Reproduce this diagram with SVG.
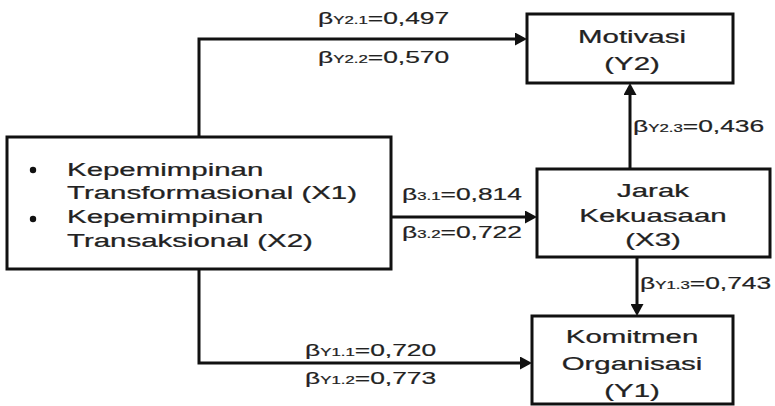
<svg xmlns="http://www.w3.org/2000/svg" width="775" height="406" viewBox="0 0 775 406">
<style>
.box{fill:#fff;stroke:#111;stroke-width:3}
.con{fill:none;stroke:#111;stroke-width:3}
.t{font-family:"Liberation Sans",Arial,sans-serif;font-size:19px;fill:#222;stroke:#222;stroke-width:0.25}
.c{text-anchor:middle}
.l{font-family:"Liberation Sans",Arial,sans-serif;font-size:16.5px;fill:#222;stroke:#222;stroke-width:0.2}
.s{font-size:10.5px}
</style>
<defs>
<marker id="ah" markerUnits="userSpaceOnUse" markerWidth="13" markerHeight="13" refX="8" refY="6.5" orient="auto">
<path d="M0,0 L12,6.5 L0,13 z" fill="#111"/>
</marker>
</defs>
<rect width="775" height="406" fill="#fff"/>
<g id="connectors">
<path class="con" d="M199,137 V39 H523" marker-end="url(#ah)"/>
<path class="con" d="M630,169 V87" marker-end="url(#ah)"/>
<path class="con" d="M391,217 H533" marker-end="url(#ah)"/>
<path class="con" d="M199,269 V363 H528" marker-end="url(#ah)"/>
<path class="con" d="M637,257 V312" marker-end="url(#ah)"/>
</g>
<g id="labels">
<text class="l" transform="translate(318,24) scale(1.6,1)">β<tspan class="s">Y2.1</tspan>=0,497</text>
<text class="l" transform="translate(318,63) scale(1.6,1)">β<tspan class="s">Y2.2</tspan>=0,570</text>
<text class="l" transform="translate(633,132) scale(1.6,1)">β<tspan class="s">Y2.3</tspan>=0,436</text>
<text class="l" transform="translate(402,200) scale(1.6,1)">β<tspan class="s">3.1</tspan>=0,814</text>
<text class="l" transform="translate(402,238) scale(1.6,1)">β<tspan class="s">3.2</tspan>=0,722</text>
<text class="l" transform="translate(640,289) scale(1.6,1)">β<tspan class="s">Y1.3</tspan>=0,743</text>
<text class="l" transform="translate(305,356) scale(1.6,1)">β<tspan class="s">Y1.1</tspan>=0,720</text>
<text class="l" transform="translate(305,384) scale(1.6,1)">β<tspan class="s">Y1.2</tspan>=0,773</text>
</g>
<g id="node-x">
<rect class="box" x="7" y="137" width="384" height="132"/>
<circle cx="33" cy="170" r="3.2" fill="#111"/>
<circle cx="33" cy="219" r="3.2" fill="#111"/>
<text class="t" transform="translate(67,176) scale(1.55,1)">Kepemimpinan</text>
<text class="t" transform="translate(67,199) scale(1.55,1)">Transformasional (X1)</text>
<text class="t" transform="translate(67,223) scale(1.55,1)">Kepemimpinan</text>
<text class="t" transform="translate(67,247) scale(1.55,1)">Transaksional (X2)</text>
</g>
<g id="node-y2">
<rect class="box" x="527" y="14" width="206" height="69"/>
<text class="t c" transform="translate(632,43) scale(1.55,1)">Motivasi</text>
<text class="t c" transform="translate(632,70) scale(1.55,1)">(Y2)</text>
</g>
<g id="node-x3">
<rect class="box" x="537" y="169" width="233" height="88"/>
<text class="t c" transform="translate(653,197) scale(1.55,1)">Jarak</text>
<text class="t c" transform="translate(653,222) scale(1.55,1)">Kekuasaan</text>
<text class="t c" transform="translate(653,246) scale(1.55,1)">(X3)</text>
</g>
<g id="node-y1">
<rect class="box" x="532" y="316" width="201" height="88"/>
<text class="t c" transform="translate(632,343) scale(1.55,1)">Komitmen</text>
<text class="t c" transform="translate(632,370) scale(1.55,1)">Organisasi</text>
<text class="t c" transform="translate(632,397) scale(1.55,1)">(Y1)</text>
</g>
</svg>
